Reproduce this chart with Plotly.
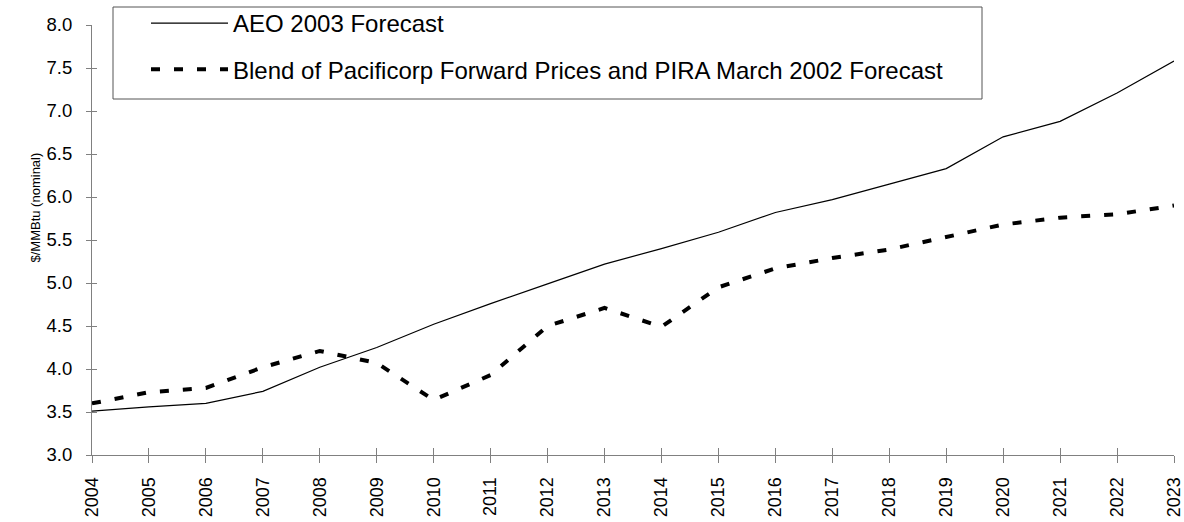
import plotly.graph_objects as go

years = list(range(2004, 2024))
aeo_2003 = [3.51, 3.56, 3.60, 3.74, 4.02, 4.25, 4.52, 4.76, 4.99, 5.22,
            5.40, 5.59, 5.82, 5.97, 6.15, 6.33, 6.70, 6.88, 7.21, 7.58]
blend = [3.60, 3.73, 3.78, 4.02, 4.21, 4.07, 3.64, 3.93, 4.50, 4.71,
         4.49, 4.95, 5.17, 5.29, 5.39, 5.54, 5.68, 5.76, 5.80, 5.90]
y_ticks = [3.0, 3.5, 4.0, 4.5, 5.0, 5.5, 6.0, 6.5, 7.0, 7.5, 8.0]
name_aeo = "AEO 2003 Forecast"
name_blend = "Blend of Pacificorp Forward Prices and PIRA March 2002 Forecast"
y_title = "$/MMBtu (nominal)"

FONT = "Liberation Sans, Arial, sans-serif"
AXIS_COLOR = "#808080"

fig = go.Figure()
fig.add_trace(go.Scatter(x=years, y=aeo_2003, name=name_aeo, mode="lines",
                         line=dict(color="black", width=1.2),
                         legendgroup="a"))
fig.add_trace(go.Scatter(x=years, y=blend, name=name_blend, mode="lines",
                         line=dict(color="black", width=4, dash="9px,14px"),
                         legendgroup="b"))

W, H = 1184, 522
L, R, T, B = 92, 10, 25, 67
pw, ph = W - L - R, H - T - B
XR = [2004 - 1e-6, 2023 + 1e-6]


def px_x(x):
    return (x - L) / pw


def px_y(y):
    return (H - B - y) / ph


fig.update_layout(
    width=W, height=H,
    margin=dict(l=L, r=R, t=T, b=B, autoexpand=False),
    paper_bgcolor="white", plot_bgcolor="white",
    font=dict(family=FONT, color="black"),
    showlegend=True,
    legend=dict(
        x=px_x(146), y=px_y(1), xanchor="left", yanchor="top",
        bgcolor="rgba(0,0,0,0)", borderwidth=0,
        font=dict(size=24, family=FONT, color="black"),
        traceorder="grouped", tracegroupgap=12, itemwidth=77,
    ),
    xaxis=dict(
        range=XR, tickvals=years, ticktext=[str(y) for y in years],
        tickangle=-90, showgrid=False, zeroline=False, automargin=False,
        showline=True, linecolor=AXIS_COLOR, linewidth=1,
        ticks="outside", ticklen=7, tickcolor=AXIS_COLOR, tickwidth=1,
        ticklabelstandoff=7, ticklabeloverflow="allow",
        tickfont=dict(size=18, family=FONT, color="black"),
    ),
    yaxis=dict(
        range=[3, 8], tickvals=y_ticks, ticktext=[f"{v:.1f}" for v in y_ticks],
        showgrid=False, zeroline=False, automargin=False,
        showline=True, linecolor=AXIS_COLOR, linewidth=1,
        ticks="outside", ticklen=5, tickcolor=AXIS_COLOR, tickwidth=1,
        ticklabelstandoff=10, ticklabeloverflow="allow",
        tickfont=dict(size=18.5, family=FONT, color="black"),
    ),
    xaxis2=dict(
        overlaying="x", range=XR, tickvals=years, showticklabels=False,
        ticks="inside", ticklen=7, tickcolor=AXIS_COLOR, tickwidth=1,
        showgrid=False, zeroline=False, showline=False, side="bottom",
        automargin=False,
    ),
    yaxis2=dict(
        overlaying="y", range=[3, 8], tickvals=y_ticks, showticklabels=False,
        ticks="inside", ticklen=5, tickcolor=AXIS_COLOR, tickwidth=1,
        showgrid=False, zeroline=False, showline=False, side="left",
        automargin=False,
    ),
    shapes=[dict(type="rect", xref="paper", yref="paper",
                 x0=px_x(113), x1=px_x(982), y0=px_y(99), y1=px_y(7),
                 line=dict(color="#555555", width=1), fillcolor="rgba(0,0,0,0)")],
    annotations=[dict(text=y_title, textangle=-90, xref="paper", yref="paper",
                      x=px_x(25), y=px_y(208), showarrow=False,
                      font=dict(size=13, family=FONT, color="black"))],
)
# invisible trace so the overlay axes (crossing tick marks) are drawn
fig.add_trace(go.Scatter(x=[2004], y=[3], xaxis="x2", yaxis="y2", mode="markers",
                         marker=dict(opacity=0), showlegend=False, hoverinfo="skip"))

fig.write_html("out.html", config={"displayModeBar": False},
               post_script="document.body.style.margin='0';document.body.style.padding='0';")
